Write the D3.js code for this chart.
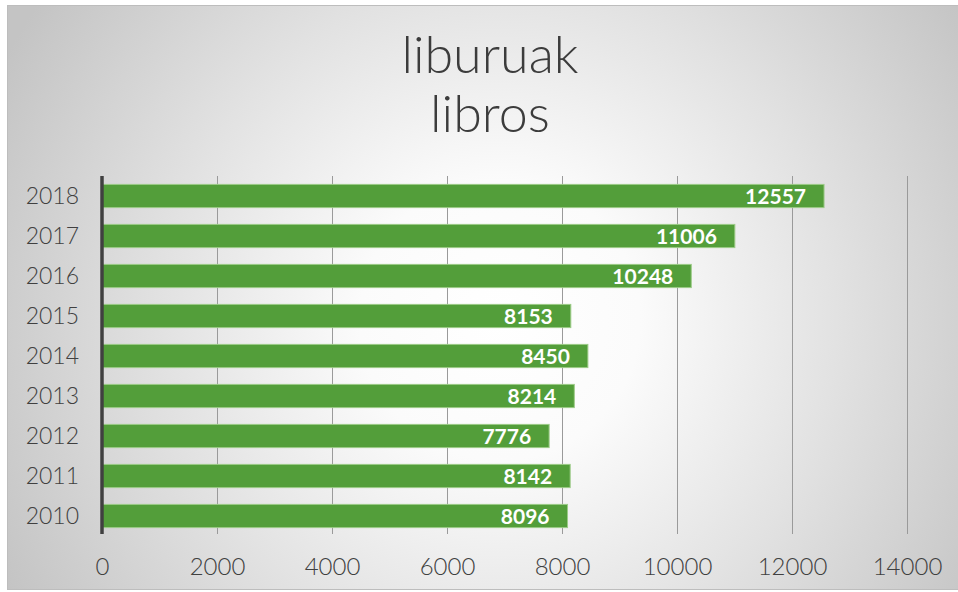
<!DOCTYPE html>
<html>
<head>
<meta charset="utf-8">
<script src="https://cdn.jsdelivr.net/npm/d3@7"></script>
<style>
  html, body { margin: 0; padding: 0; background: #ffffff; }
  svg { display: block; }
</style>
</head>
<body>
<svg id="chart" width="958" height="592"></svg>
<script>
const titleLines = ["liburuak", "libros"];
const years = ["2018", "2017", "2016", "2015", "2014", "2013", "2012", "2011", "2010"];
const values = [12557, 11006, 10248, 8153, 8450, 8214, 7776, 8142, 8096];
const xTicks = [0, 2000, 4000, 6000, 8000, 10000, 12000, 14000];

const svg = d3.select("#chart");
const W = 958, H = 592;

const defs = svg.append("defs");
const grad = defs.append("radialGradient")
  .attr("id", "bg").attr("gradientUnits", "userSpaceOnUse")
  .attr("cx", 500).attr("cy", 320).attr("r", 560)
  .attr("fx", 500).attr("fy", 320);
grad.append("stop").attr("offset", "0%").attr("stop-color", "#ffffff");
grad.append("stop").attr("offset", "25%").attr("stop-color", "#fbfbfb");
grad.append("stop").attr("offset", "60%").attr("stop-color", "#e2e2e2");
grad.append("stop").attr("offset", "100%").attr("stop-color", "#c4c4c4");

svg.append("rect")
  .attr("x", 7.5).attr("y", 5.5).attr("width", W - 7).attr("height", 584)
  .attr("fill", "url(#bg)").attr("stroke", "#bdbdbd").attr("stroke-width", 1);

// Title
const title = svg.append("g");
titleLines.forEach((t, i) => {
  title.append("text")
    .attr("x", 490).attr("y", 73 + i * 58.5)
    .attr("text-anchor", "middle")
    .attr("font-family", "Lato, 'Open Sans', sans-serif")
    .attr("font-weight", 300)
    .attr("font-size", 52)
    .attr("fill", "#3c3c3c")
    .text(t);
});

const x = d3.scaleLinear().domain([0, 14000]).range([102, 907]);
const y = d3.scaleBand().domain(years).range([176, 536]).paddingInner(0.42).paddingOuter(0.21);

// gridlines
svg.append("g").selectAll("line")
  .data(xTicks.filter(d => d > 0))
  .join("line")
  .attr("x1", d => x(d)).attr("x2", d => x(d))
  .attr("y1", 176).attr("y2", 534)
  .attr("stroke", "#9a9a9a").attr("stroke-width", 1)
  .attr("shape-rendering", "crispEdges");

// x tick labels
const xAxis = d3.axisBottom(x).tickValues(xTicks).tickSize(0).tickPadding(0).tickFormat(d3.format("d"));
const gx = svg.append("g").attr("transform", "translate(0,557)").call(xAxis);
gx.select(".domain").remove();
gx.selectAll("text")
  .attr("font-family", "Lato, 'Open Sans', sans-serif")
  .attr("font-size", 24)
  .attr("font-weight", 300)
  .attr("fill", "#404040")
  .attr("dy", "0.74em");

// bars
const data = years.map((yr, i) => ({ year: yr, value: values[i] }));
svg.append("g").selectAll("rect")
  .data(data)
  .join("rect")
  .attr("x", x(0))
  .attr("y", d => y(d.year))
  .attr("width", d => x(d.value) - x(0))
  .attr("height", y.bandwidth())
  .attr("fill", "#539e3a")
  .attr("stroke", "#9ccb87")
  .attr("stroke-width", 1);

// value labels
svg.append("g").selectAll("text")
  .data(data)
  .join("text")
  .attr("x", d => x(d.value) - 18)
  .attr("y", d => y(d.year) + y.bandwidth() / 2)
  .attr("dy", "0.36em")
  .attr("text-anchor", "end")
  .attr("font-family", "Lato, 'Open Sans', sans-serif")
  .attr("font-weight", 700)
  .attr("font-size", 21)
  .attr("fill", "#ffffff")
  .text(d => d.value);

// y axis
const yAxis = d3.axisLeft(y).tickSize(0).tickPadding(23);
const gy = svg.append("g").attr("transform", `translate(${x(0)},0)`).call(yAxis);
gy.select(".domain").remove();
gy.selectAll("text")
  .attr("font-family", "Lato, 'Open Sans', sans-serif")
  .attr("font-size", 23)
  .attr("font-weight", 300)
  .attr("fill", "#404040")
  .attr("dy", "0.36em");

svg.append("line")
  .attr("x1", x(0)).attr("x2", x(0))
  .attr("y1", 176).attr("y2", 534)
  .attr("stroke", "#404040").attr("stroke-width", 3.5);
</script>
</body>
</html>
